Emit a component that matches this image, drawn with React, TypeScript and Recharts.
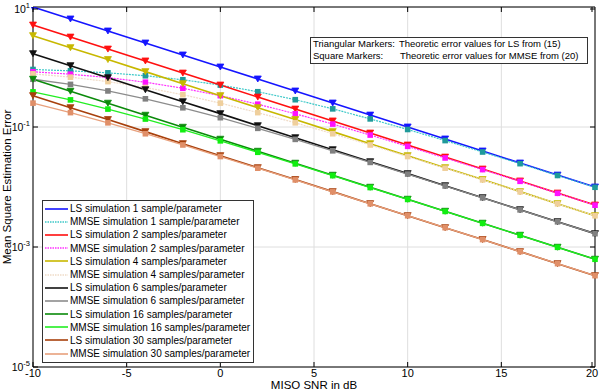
import { CartesianGrid, Legend, Line, LineChart, ReferenceLine, XAxis, YAxis } from 'recharts';

// SNR sample points (dB)
const snr = [-10, -8, -6, -4, -2, 0, 2, 4, 6, 8, 10, 12, 14, 16, 18, 20];

// LS simulations
const lsOne = [10, 6.31, 3.98, 2.51, 1.585, 1, 0.631, 0.398, 0.251, 0.158, 0.1, 0.0631, 0.0398, 0.0251, 0.0158, 0.01];
const lsTwo = [5, 3.15, 1.99, 1.26, 0.792, 0.5, 0.315, 0.199, 0.126, 0.0792, 0.05, 0.0315, 0.0199, 0.0126, 0.00792, 0.005];
const lsFour = [3.33, 2.1, 1.33, 0.837, 0.528, 0.333, 0.21, 0.133, 0.0837, 0.0528, 0.0333, 0.021, 0.0133, 0.00837, 0.00528, 0.00333];
const lsSix = [1.667, 1.052, 0.663, 0.418, 0.264, 0.167, 0.105, 0.0663, 0.0418, 0.0264, 0.0167, 0.0105, 0.00663, 0.00418, 0.00264, 0.00167];
const lsSixteen = [0.625, 0.394, 0.249, 0.157, 0.099, 0.0625, 0.0394, 0.0249, 0.0157, 0.0099, 0.00625, 0.00394, 0.00249, 0.00157, 0.00099, 0.000625];
const lsThirty = [0.333, 0.21, 0.133, 0.0837, 0.0528, 0.0333, 0.021, 0.0133, 0.00837, 0.00528, 0.00333, 0.0021, 0.00133, 0.000837, 0.000528, 0.000333];

// MMSE simulations
const mmseOne = [0.909, 0.863, 0.799, 0.715, 0.613, 0.5, 0.387, 0.285, 0.2006, 0.1365, 0.0909, 0.0594, 0.0383, 0.0245, 0.01556, 0.0099];
const mmseTwo = [0.833, 0.759, 0.666, 0.558, 0.442, 0.333, 0.24, 0.166, 0.1119, 0.0734, 0.0476, 0.0305, 0.0195, 0.01244, 0.00786, 0.004975];
const mmseFour = [0.769, 0.677, 0.571, 0.456, 0.3455, 0.25, 0.1736, 0.1174, 0.0772, 0.0502, 0.0322, 0.02057, 0.01313, 0.0083, 0.00525, 0.00332];
const mmseSix = [0.625, 0.513, 0.399, 0.295, 0.209, 0.143, 0.095, 0.0622, 0.0401, 0.0257, 0.01643, 0.01039, 0.00659, 0.00416, 0.00263, 0.001667];
const mmseSixteen = [0.385, 0.283, 0.199, 0.1357, 0.0901, 0.0588, 0.0379, 0.0243, 0.01546, 0.0098, 0.00621, 0.00392, 0.00248, 0.001568, 0.000989, 0.000625];
const mmseThirty = [0.25, 0.1736, 0.1174, 0.0772, 0.0502, 0.0322, 0.02057, 0.01313, 0.0083, 0.00525, 0.00332, 0.0021, 0.00133, 0.000837, 0.000528, 0.000333];

const xTicks = [-10, -5, 0, 5, 10, 15, 20];
const yTicks = [1e-5, 1e-3, 1e-1, 10];
const yExponents = ['-5', '-3', '-1', '1'];

const font = '"Liberation Sans", Arial, sans-serif';
const box = { left: 33, right: 595, top: 7, bottom: 367 };

type Series = {
  key: string;
  name: string;
  values: number[];
  color: string;
  mark: string;
  shape: 'tri' | 'sq';
  width: number;
  dash?: string;
};

const series: Series[] = [
  { key: 'ls1', name: 'LS simulation 1 sample/parameter', values: lsOne, color: '#1515ff', mark: '#1515ff', shape: 'tri', width: 1.6 },
  { key: 'mmse1', name: 'MMSE simulation 1 sample/parameter', values: mmseOne, color: '#3cc8c8', mark: '#1f9a9a', shape: 'sq', width: 1.2, dash: '2 1' },
  { key: 'ls2', name: 'LS simulation 2 samples/parameter', values: lsTwo, color: '#ff1010', mark: '#ff1010', shape: 'tri', width: 1.6 },
  { key: 'mmse2', name: 'MMSE simulation 2 samples/parameter', values: mmseTwo, color: '#ff30ff', mark: '#ff10ff', shape: 'sq', width: 1.2, dash: '2 1' },
  { key: 'ls4', name: 'LS simulation 4 samples/parameter', values: lsFour, color: '#c8b800', mark: '#c8b800', shape: 'tri', width: 1.6 },
  { key: 'mmse4', name: 'MMSE simulation 4 samples/parameter', values: mmseFour, color: '#f0dcc8', mark: '#efcf9c', shape: 'sq', width: 1.2, dash: '2 1' },
  { key: 'ls6', name: 'LS simulation 6 samples/parameter', values: lsSix, color: '#111111', mark: '#111111', shape: 'tri', width: 1.6 },
  { key: 'mmse6', name: 'MMSE simulation 6 samples/parameter', values: mmseSix, color: '#8c8c8c', mark: '#808080', shape: 'sq', width: 1.3 },
  { key: 'ls16', name: 'LS simulation 16 samples/parameter', values: lsSixteen, color: '#0a8a0a', mark: '#0a8a0a', shape: 'tri', width: 1.6 },
  { key: 'mmse16', name: 'MMSE simulation 16 samples/parameter', values: mmseSixteen, color: '#22ee22', mark: '#11ee11', shape: 'sq', width: 1.3 },
  { key: 'ls30', name: 'LS simulation 30 samples/parameter', values: lsThirty, color: '#a8400c', mark: '#a8400c', shape: 'tri', width: 1.6 },
  { key: 'mmse30', name: 'MMSE simulation 30 samples/parameter', values: mmseThirty, color: '#e8a07c', mark: '#e08f68', shape: 'sq', width: 1.3 },
];

const rows = snr.map((value, i) => {
  const row: Record<string, number> = { snr: value };
  series.forEach((s) => {
    row[s.key] = s.values[i];
  });
  return row;
});

function markerFor(s: Series) {
  return (props: any) => {
    const { cx, cy, index } = props;
    const k = `${s.key}-${index}`;
    if (cx == null || cy == null) return <g key={k} />;
    if (s.shape === 'tri') {
      return (
        <path
          key={k}
          d={`M${cx - 3.5},${cy - 3} L${cx + 3.5},${cy - 3} L${cx},${cy + 3} Z`}
          fill={s.mark}
          stroke={s.mark}
          strokeWidth={0.8}
        />
      );
    }
    return <rect key={k} x={cx - 2.8} y={cy - 2.8} width={5.6} height={5.6} fill={s.mark} />;
  };
}

function XTick(props: any) {
  const { x, payload } = props;
  return (
    <g>
      <line x1={x} x2={x} y1={box.bottom} y2={box.bottom - 5} stroke="#000" />
      <line x1={x} x2={x} y1={box.top} y2={box.top + 5} stroke="#000" />
      <text x={x} y={377} textAnchor="middle" fontSize={11} fontFamily={font} fill="#000">
        {payload.value}
      </text>
    </g>
  );
}

function YTick(props: any) {
  const { y, index } = props;
  return (
    <g>
      <line x1={box.left} x2={box.left + 5} y1={y} y2={y} stroke="#000" />
      <line x1={box.right} x2={box.right - 5} y1={y} y2={y} stroke="#000" />
      <text x={30} y={y + 4} textAnchor="end" fontSize={10.5} fontFamily={font} fill="#000">
        <tspan>10</tspan>
        <tspan dy={-5} fontSize={7.5}>
          {yExponents[index]}
        </tspan>
      </text>
    </g>
  );
}

function XTitle() {
  return (
    <text x={314} y={389} textAnchor="middle" fontSize={11.5} fontFamily={font} fill="#000">
      MISO SNR in dB
    </text>
  );
}

function YTitle() {
  return (
    <text
      x={11}
      y={187}
      transform="rotate(-90 11 187)"
      textAnchor="middle"
      fontSize={11.5}
      fontFamily={font}
      fill="#000"
    >
      Mean Square Estimation Error
    </text>
  );
}

function LegendBox() {
  return (
    <div
      style={{
        border: '1px solid #333',
        background: '#fff',
        width: 212,
        height: 163,
        boxSizing: 'border-box',
        padding: '1px 0 0 2px',
        fontFamily: font,
        fontSize: 10,
      }}
    >
      {series.map((s) => (
        <div key={s.key} style={{ display: 'flex', alignItems: 'center', height: 13.2 }}>
          <svg width={25} height={8} style={{ flex: 'none' }}>
            <line x1={0} x2={23} y1={4} y2={4} stroke={s.color} strokeWidth={1.6} strokeDasharray={s.dash ? '1.5 1' : undefined} />
          </svg>
          <span style={{ whiteSpace: 'nowrap', color: '#000' }}>{s.name}</span>
        </div>
      ))}
    </div>
  );
}

export default function App() {
  return (
    <div style={{ position: 'absolute', left: 0, top: 0, width: 600, height: 390, background: '#fff' }}>
      <LineChart width={600} height={390} data={rows} margin={{ top: 7, right: 5, bottom: 0, left: 0 }}>
        <CartesianGrid stroke="#dedede" />
        <XAxis
          dataKey="snr"
          type="number"
          domain={[-10, 20]}
          ticks={xTicks}
          height={23}
          stroke="#000"
          tickLine={false}
          tick={<XTick />}
          label={<XTitle />}
        />
        <YAxis
          scale="log"
          domain={[1e-5, 10]}
          ticks={yTicks}
          width={33}
          stroke="#000"
          allowDataOverflow
          tickLine={false}
          tick={<YTick />}
          label={<YTitle />}
        />
        <ReferenceLine y={10} stroke="#000" />
        <ReferenceLine x={20} stroke="#000" />
        {series.map((s) => (
          <Line
            key={s.key}
            dataKey={s.key}
            name={s.name}
            stroke={s.color}
            strokeWidth={s.width}
            strokeDasharray={s.dash}
            dot={markerFor(s)}
            activeDot={false}
            isAnimationActive={false}
          />
        ))}
        <Legend
          layout="vertical"
          align="center"
          verticalAlign="middle"
          content={() => <LegendBox />}
          wrapperStyle={{ left: 42, top: 200, width: 212 }}
        />
      </LineChart>
      <div
        style={{
          position: 'absolute',
          left: 310,
          top: 37,
          width: 278,
          height: 27,
          boxSizing: 'border-box',
          border: '1px solid #333',
          background: '#fff',
          fontFamily: font,
          fontSize: 9.5,
          lineHeight: '12px',
          padding: '0 0 0 2px',
          color: '#000',
          whiteSpace: 'nowrap',
        }}
      >
        <div style={{ display: 'flex' }}>
          <span style={{ width: 86, flex: 'none' }}>Triangular Markers:</span>
          <span style={{ flex: 'none' }}>Theoretic error values for LS from (15)</span>
        </div>
        <div style={{ display: 'flex' }}>
          <span style={{ width: 87, flex: 'none' }}>Square Markers:</span>
          <span style={{ flex: 'none' }}>Theoretic error values for MMSE from (20)</span>
        </div>
      </div>
    </div>
  );
}
